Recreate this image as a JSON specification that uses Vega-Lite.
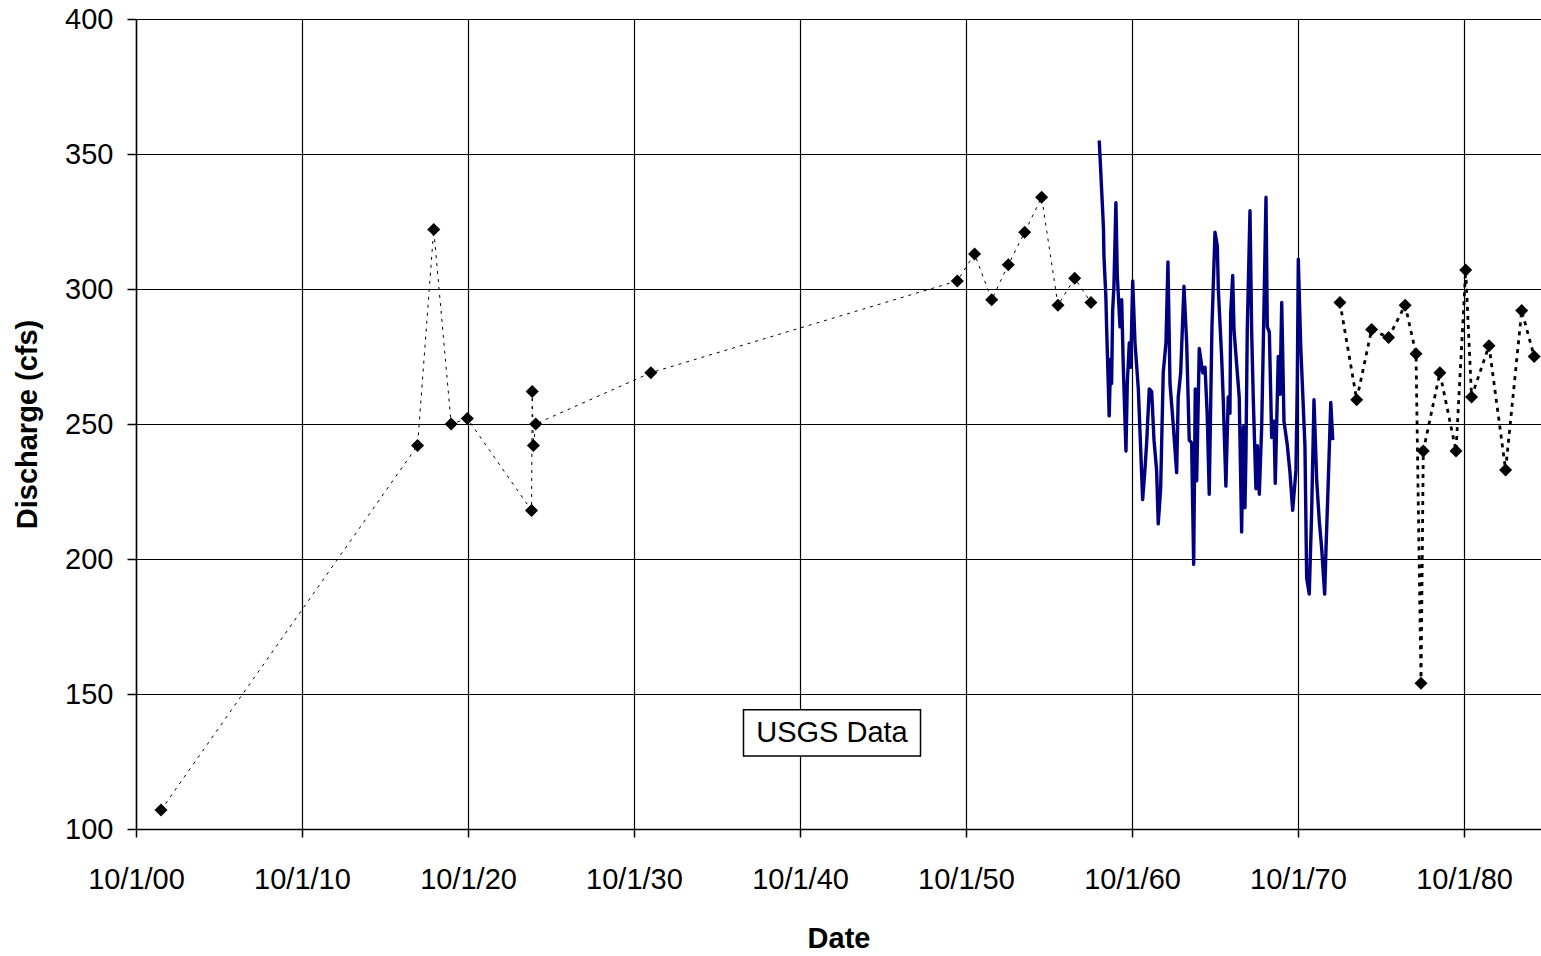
{
  "$schema": "https://vega.github.io/schema/vega-lite/v6.json",
  "width": 1405,
  "height": 810,
  "autosize": {"type": "none"},
  "padding": {"left": 136, "top": 19, "right": 0, "bottom": 127},
  "background": "white",
  "config": {
    "view": {"stroke": null},
    "font": "Liberation Sans",
    "axis": {
      "labelFont": "Liberation Sans",
      "labelFontSize": 29,
      "labelColor": "black",
      "titleFont": "Liberation Sans",
      "titleFontSize": 29,
      "titleFontWeight": "bold",
      "titleColor": "black",
      "domainColor": "black",
      "domainWidth": 1.5,
      "tickColor": "black",
      "tickWidth": 1.5,
      "tickSize": 8,
      "gridColor": "black",
      "gridWidth": 1.2,
      "gridOpacity": 1
    }
  },
  "data": {"name": "flow"},
  "datasets": {
    "flow": [
      {"date": "1902-04-04", "cfs": 107, "series": "periodic"},
      {"date": "1917-09-17", "cfs": 242, "series": "periodic"},
      {"date": "1918-09-08", "cfs": 322, "series": "periodic"},
      {"date": "1919-09-27", "cfs": 250, "series": "periodic"},
      {"date": "1920-09-17", "cfs": 252, "series": "periodic"},
      {"date": "1924-07-30", "cfs": 218, "series": "periodic"},
      {"date": "1924-08-14", "cfs": 262, "series": "periodic"},
      {"date": "1924-09-09", "cfs": 242, "series": "periodic"},
      {"date": "1924-10-30", "cfs": 250, "series": "periodic"},
      {"date": "1931-10-07", "cfs": 269, "series": "periodic"},
      {"date": "1950-03-24", "cfs": 303, "series": "periodic"},
      {"date": "1951-04-08", "cfs": 313, "series": "periodic"},
      {"date": "1952-04-19", "cfs": 296, "series": "periodic"},
      {"date": "1953-04-19", "cfs": 309, "series": "periodic"},
      {"date": "1954-04-15", "cfs": 321, "series": "periodic"},
      {"date": "1955-04-22", "cfs": 334, "series": "periodic"},
      {"date": "1956-04-16", "cfs": 294, "series": "periodic"},
      {"date": "1957-04-19", "cfs": 304, "series": "periodic"},
      {"date": "1958-04-11", "cfs": 295, "series": "periodic"},

      {"date": "1958-10-11", "cfs": 355, "series": "record"},
      {"date": "1958-12-25", "cfs": 329, "series": "record"},
      {"date": "1959-01-13", "cfs": 322, "series": "record"},
      {"date": "1959-01-23", "cfs": 312, "series": "record"},
      {"date": "1959-03-06", "cfs": 297, "series": "record"},
      {"date": "1959-03-22", "cfs": 286, "series": "record"},
      {"date": "1959-05-18", "cfs": 253, "series": "record"},
      {"date": "1959-06-19", "cfs": 274, "series": "record"},
      {"date": "1959-07-10", "cfs": 265, "series": "record"},
      {"date": "1959-08-02", "cfs": 292, "series": "record"},
      {"date": "1959-08-30", "cfs": 301, "series": "record"},
      {"date": "1959-10-13", "cfs": 332, "series": "record"},
      {"date": "1959-11-12", "cfs": 305, "series": "record"},
      {"date": "1960-01-11", "cfs": 286, "series": "record"},
      {"date": "1960-02-17", "cfs": 296, "series": "record"},
      {"date": "1960-03-22", "cfs": 272, "series": "record"},
      {"date": "1960-05-21", "cfs": 240, "series": "record"},
      {"date": "1960-06-19", "cfs": 265, "series": "record"},
      {"date": "1960-08-02", "cfs": 280, "series": "record"},
      {"date": "1960-09-02", "cfs": 271, "series": "record"},
      {"date": "1960-10-16", "cfs": 303, "series": "record"},
      {"date": "1960-12-06", "cfs": 280, "series": "record"},
      {"date": "1961-02-17", "cfs": 263, "series": "record"},
      {"date": "1961-05-23", "cfs": 222, "series": "record"},
      {"date": "1961-07-12", "cfs": 233, "series": "record"},
      {"date": "1961-08-19", "cfs": 243, "series": "record"},
      {"date": "1961-10-16", "cfs": 263, "series": "record"},
      {"date": "1961-12-08", "cfs": 262, "series": "record"},
      {"date": "1962-01-28", "cfs": 244, "series": "record"},
      {"date": "1962-03-26", "cfs": 233, "series": "record"},
      {"date": "1962-05-01", "cfs": 213, "series": "record"},
      {"date": "1962-06-23", "cfs": 226, "series": "record"},
      {"date": "1962-08-19", "cfs": 269, "series": "record"},
      {"date": "1962-10-18", "cfs": 280, "series": "record"},
      {"date": "1962-12-01", "cfs": 310, "series": "record"},
      {"date": "1963-01-15", "cfs": 265, "series": "record"},
      {"date": "1963-03-26", "cfs": 250, "series": "record"},
      {"date": "1963-06-10", "cfs": 232, "series": "record"},
      {"date": "1963-07-15", "cfs": 260, "series": "record"},
      {"date": "1963-09-07", "cfs": 269, "series": "record"},
      {"date": "1963-11-18", "cfs": 301, "series": "record"},
      {"date": "1964-01-17", "cfs": 280, "series": "record"},
      {"date": "1964-03-13", "cfs": 244, "series": "record"},
      {"date": "1964-05-05", "cfs": 243, "series": "record"},
      {"date": "1964-06-19", "cfs": 198, "series": "record"},
      {"date": "1964-07-24", "cfs": 263, "series": "record"},
      {"date": "1964-08-24", "cfs": 229, "series": "record"},
      {"date": "1964-10-20", "cfs": 278, "series": "record"},
      {"date": "1965-01-04", "cfs": 269, "series": "record"},
      {"date": "1965-02-24", "cfs": 271, "series": "record"},
      {"date": "1965-04-14", "cfs": 253, "series": "record"},
      {"date": "1965-05-27", "cfs": 224, "series": "record"},
      {"date": "1965-07-26", "cfs": 286, "series": "record"},
      {"date": "1965-10-01", "cfs": 321, "series": "record"},
      {"date": "1965-11-21", "cfs": 316, "series": "record"},
      {"date": "1965-12-13", "cfs": 300, "series": "record"},
      {"date": "1966-02-26", "cfs": 274, "series": "record"},
      {"date": "1966-04-01", "cfs": 259, "series": "record"},
      {"date": "1966-05-29", "cfs": 227, "series": "record"},
      {"date": "1966-07-19", "cfs": 260, "series": "record"},
      {"date": "1966-08-26", "cfs": 254, "series": "record"},
      {"date": "1966-09-11", "cfs": 291, "series": "record"},
      {"date": "1966-10-25", "cfs": 305, "series": "record"},
      {"date": "1966-11-23", "cfs": 285, "series": "record"},
      {"date": "1967-01-21", "cfs": 272, "series": "record"},
      {"date": "1967-03-18", "cfs": 260, "series": "record"},
      {"date": "1967-05-10", "cfs": 210, "series": "record"},
      {"date": "1967-06-15", "cfs": 249, "series": "record"},
      {"date": "1967-07-22", "cfs": 219, "series": "record"},
      {"date": "1967-08-13", "cfs": 239, "series": "record"},
      {"date": "1967-09-11", "cfs": 285, "series": "record"},
      {"date": "1967-11-10", "cfs": 329, "series": "record"},
      {"date": "1967-12-17", "cfs": 284, "series": "record"},
      {"date": "1968-01-22", "cfs": 259, "series": "record"},
      {"date": "1968-03-20", "cfs": 226, "series": "record"},
      {"date": "1968-04-19", "cfs": 242, "series": "record"},
      {"date": "1968-06-02", "cfs": 224, "series": "record"},
      {"date": "1968-07-24", "cfs": 249, "series": "record"},
      {"date": "1968-08-28", "cfs": 279, "series": "record"},
      {"date": "1968-10-27", "cfs": 334, "series": "record"},
      {"date": "1968-11-25", "cfs": 286, "series": "record"},
      {"date": "1969-01-09", "cfs": 284, "series": "record"},
      {"date": "1969-03-01", "cfs": 245, "series": "record"},
      {"date": "1969-04-21", "cfs": 251, "series": "record"},
      {"date": "1969-05-19", "cfs": 228, "series": "record"},
      {"date": "1969-07-24", "cfs": 275, "series": "record"},
      {"date": "1969-09-01", "cfs": 261, "series": "record"},
      {"date": "1969-10-08", "cfs": 295, "series": "record"},
      {"date": "1969-11-27", "cfs": 251, "series": "record"},
      {"date": "1970-02-09", "cfs": 242, "series": "record"},
      {"date": "1970-04-08", "cfs": 232, "series": "record"},
      {"date": "1970-06-06", "cfs": 218, "series": "record"},
      {"date": "1970-08-18", "cfs": 233, "series": "record"},
      {"date": "1970-09-16", "cfs": 266, "series": "record"},
      {"date": "1970-10-08", "cfs": 311, "series": "record"},
      {"date": "1970-11-30", "cfs": 279, "series": "record"},
      {"date": "1971-03-03", "cfs": 242, "series": "record"},
      {"date": "1971-04-10", "cfs": 193, "series": "record"},
      {"date": "1971-06-06", "cfs": 187, "series": "record"},
      {"date": "1971-07-28", "cfs": 217, "series": "record"},
      {"date": "1971-09-18", "cfs": 259, "series": "record"},
      {"date": "1971-11-17", "cfs": 229, "series": "record"},
      {"date": "1972-01-13", "cfs": 214, "series": "record"},
      {"date": "1972-03-05", "cfs": 204, "series": "record"},
      {"date": "1972-05-10", "cfs": 187, "series": "record"},
      {"date": "1972-06-09", "cfs": 204, "series": "record"},
      {"date": "1972-07-29", "cfs": 229, "series": "record"},
      {"date": "1972-09-21", "cfs": 258, "series": "record"},
      {"date": "1972-11-04", "cfs": 244, "series": "record"},

      {"date": "1973-04-11", "cfs": 295, "series": "later"},
      {"date": "1974-04-15", "cfs": 259, "series": "later"},
      {"date": "1975-03-09", "cfs": 285, "series": "later"},
      {"date": "1976-03-16", "cfs": 282, "series": "later"},
      {"date": "1977-03-16", "cfs": 294, "series": "later"},
      {"date": "1977-11-10", "cfs": 276, "series": "later"},
      {"date": "1978-02-28", "cfs": 154, "series": "later"},
      {"date": "1978-04-19", "cfs": 240, "series": "later"},
      {"date": "1979-04-19", "cfs": 269, "series": "later"},
      {"date": "1980-04-08", "cfs": 240, "series": "later"},
      {"date": "1980-11-07", "cfs": 307, "series": "later"},
      {"date": "1981-03-16", "cfs": 260, "series": "later"},
      {"date": "1982-04-04", "cfs": 279, "series": "later"},
      {"date": "1983-04-04", "cfs": 233, "series": "later"},
      {"date": "1984-03-23", "cfs": 292, "series": "later"},
      {"date": "1984-12-23", "cfs": 275, "series": "later"}
    ]
  },
  "encoding": {
    "x": {
      "field": "date",
      "type": "temporal",
      "title": "Date",
      "scale": {
        "type": "utc",
        "domain": [
          {"year": 1900, "month": 10, "date": 1, "utc": true},
          {"year": 1985, "month": 5, "date": 22, "utc": true}
        ]
      },
      "axis": {
        "values": [
          {"year": 1900, "month": 10, "date": 1, "utc": true},
          {"year": 1910, "month": 10, "date": 1, "utc": true},
          {"year": 1920, "month": 10, "date": 1, "utc": true},
          {"year": 1930, "month": 10, "date": 1, "utc": true},
          {"year": 1940, "month": 10, "date": 1, "utc": true},
          {"year": 1950, "month": 10, "date": 1, "utc": true},
          {"year": 1960, "month": 10, "date": 1, "utc": true},
          {"year": 1970, "month": 10, "date": 1, "utc": true},
          {"year": 1980, "month": 10, "date": 1, "utc": true}
        ],
        "format": "%-m/%-d/%y",
        "labelPadding": 28,
        "labelFlush": false,
        "labelOverlap": false,
        "titlePadding": 30
      }
    },
    "y": {
      "field": "cfs",
      "type": "quantitative",
      "title": "Discharge (cfs)",
      "scale": {"domain": [100, 400], "nice": false, "zero": false},
      "axis": {
        "values": [100, 150, 200, 250, 300, 350, 400],
        "labelPadding": 14,
        "tickSize": 9,
        "titlePadding": 22
      }
    }
  },
  "layer": [
    {
      "transform": [{"filter": "datum.series === 'periodic'"}],
      "mark": {"type": "line", "color": "black", "strokeWidth": 1, "strokeDash": [3, 5]}
    },
    {
      "transform": [{"filter": "datum.series === 'later'"}],
      "mark": {"type": "line", "color": "black", "strokeWidth": 2.8, "strokeDash": [4, 5]}
    },
    {
      "transform": [{"filter": "datum.series === 'record'"}],
      "mark": {"type": "line", "color": "#000080", "strokeWidth": 3.4, "strokeJoin": "round"}
    },
    {
      "transform": [{"filter": "datum.series !== 'record'"}],
      "mark": {"type": "point", "shape": "diamond", "filled": true, "color": "black", "opacity": 1, "size": 170}
    },
    {
      "data": {"values": [{"label": "USGS Data", "date": "1942-09-05", "cfs": 135.6}]},
      "mark": {
        "type": "point",
        "shape": "M -1 -0.26 H 1 V 0.26 H -1 Z",
        "size": 31329,
        "filled": true,
        "fill": "white",
        "stroke": "black",
        "strokeWidth": 1.5,
        "opacity": 1
      }
    },
    {
      "data": {"values": [{"label": "USGS Data", "date": "1942-09-05", "cfs": 135.6}]},
      "mark": {"type": "text", "font": "Liberation Sans", "fontSize": 29, "color": "black", "align": "center", "baseline": "middle"},
      "encoding": {"text": {"field": "label"}}
    }
  ]
}
